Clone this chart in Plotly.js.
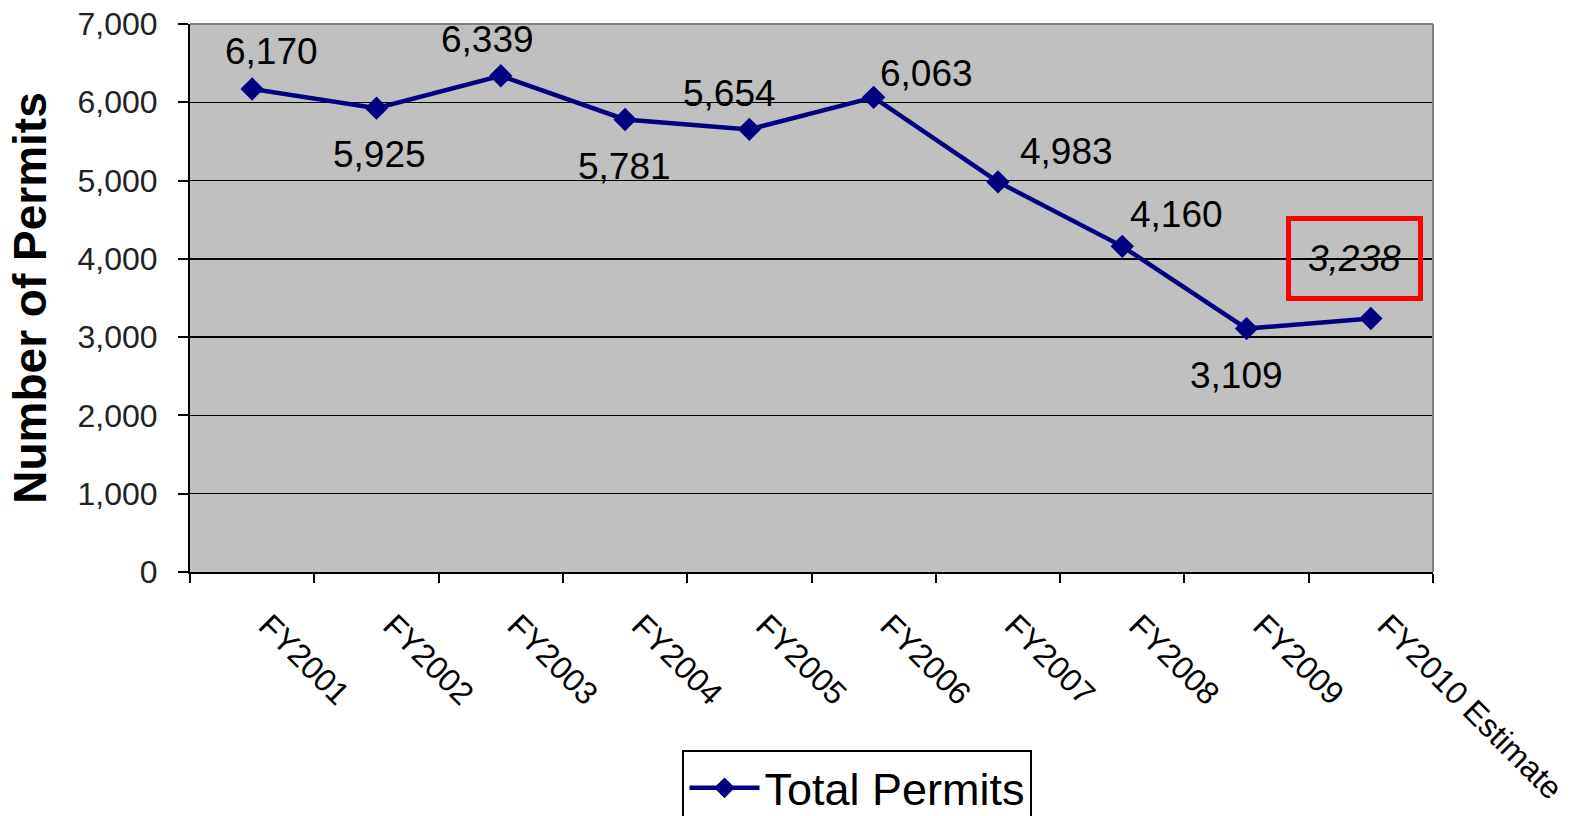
<!DOCTYPE html>
<html>
<head>
<meta charset="utf-8">
<script src="https://cdn.plot.ly/plotly-3.0.1.min.js"></script>
<style>html,body{margin:0;padding:0;background:#fff;}#chart{width:1574px;height:816px;}</style>
</head>
<body>
<div id="chart"></div>
<script>
const categories = ["FY2001","FY2002","FY2003","FY2004","FY2005","FY2006","FY2007","FY2008","FY2009","FY2010 Estimate"];
const permits = [6170, 5925, 6339, 5781, 5654, 6063, 4983, 4160, 3109, 3238];
const yTickVals = [0,1000,2000,3000,4000,5000,6000,7000];
const seriesName = "Total Permits";
// label offsets in pixels (styling only)
const labelDx = [19, 3, -13, -1, -20, 53, 69, 54, -10, -16];
const labelDy = [37, -46, 36, -47, 36, 24, 30, 32, -47, 60];
const estimateIndex = 9;

const FONT = "Liberation Sans, Arial, sans-serif";

const annotations = permits.map((v, i) => {
  const a = {
    x: categories[i], y: v, xref: "x", yref: "y",
    text: v.toLocaleString("en-US"),
    showarrow: false,
    xshift: labelDx[i], yshift: labelDy[i],
    font: {family: FONT, size: 37, color: "#000"}
  };
  if (i === estimateIndex) {
    a.text = "<i>" + v.toLocaleString("en-US") + "</i>";
    a.bordercolor = "#ff0000";
    a.borderwidth = 5;
    a.borderpad = 17;
  }
  return a;
});

const trace = {
  x: categories, y: permits, type: "scatter", mode: "lines+markers",
  name: seriesName,
  line: {color: "#000080", width: 4.5},
  marker: {symbol: "diamond", size: 18, color: "#000080"}
};

const layout = {
  width: 1574, height: 816,
  margin: {l: 190, r: 141, t: 24, b: 244, autoexpand: false},
  paper_bgcolor: "#ffffff",
  plot_bgcolor: "#c0c0c0",
  font: {family: FONT, color: "#000"},
  showlegend: true,
  legend: {
    x: 0.537, y: -0.325, xanchor: "center", yanchor: "top",
    bgcolor: "#ffffff", bordercolor: "#000", borderwidth: 2,
    font: {family: FONT, size: 45, color: "#000"},
    itemwidth: 70
  },
  xaxis: {
    type: "category",
    range: [-0.5, 9.5],
    tickson: "boundaries",
    ticks: "outside", ticklen: 9, tickwidth: 2, tickcolor: "#000",
    showline: true, linecolor: "#000", linewidth: 2,
    showgrid: false, zeroline: false,
    tickangle: 45,
    ticklabelstandoff: 20,
    ticklabelshift: 16,
    tickfont: {family: FONT, size: 32, color: "#000"},
    automargin: false
  },
  yaxis: {
    range: [0, 7000],
    tickvals: yTickVals,
    tickformat: ",",
    ticks: "outside", ticklen: 10, tickwidth: 2, tickcolor: "#000",
    ticklabelstandoff: 14,
    showline: true, linecolor: "#000", linewidth: 2,
    showgrid: true, gridcolor: "#000", gridwidth: 1.5,
    zeroline: false,
    tickfont: {family: FONT, size: 32, color: "#222"},
    title: {text: "<b>Number of Permits</b>", font: {family: FONT, size: 46, color: "#000"}, standoff: 16},
    automargin: false
  },
  shapes: [
    {type: "line", xref: "paper", yref: "paper", x0: 0, x1: 1, y0: 1, y1: 1, line: {color: "#808080", width: 2}},
    {type: "line", xref: "paper", yref: "paper", x0: 1, x1: 1, y0: 0, y1: 1, line: {color: "#808080", width: 2}}
  ],
  annotations: annotations
};

Plotly.newPlot("chart", [trace], layout, {displayModeBar: false, staticPlot: true});
</script>
</body>
</html>
